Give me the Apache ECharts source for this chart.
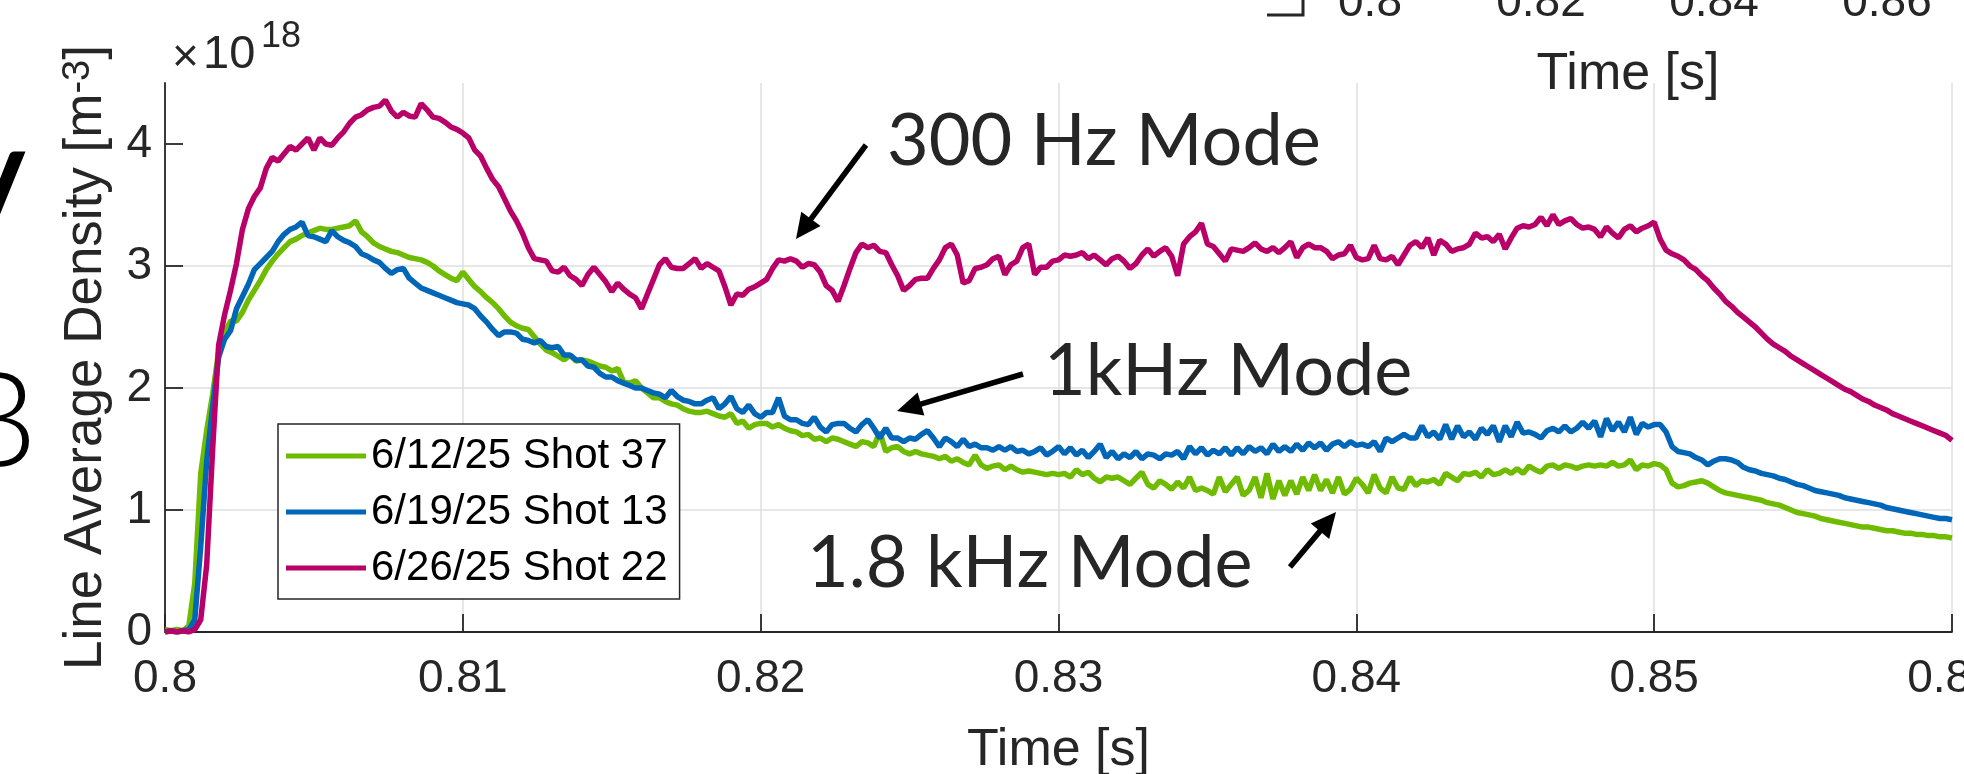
<!DOCTYPE html>
<html>
<head>
<meta charset="utf-8">
<title>Line average density</title>
<script src="https://cdn.jsdelivr.net/npm/echarts@6/dist/echarts.min.js"></script>
<style>
  html, body { margin: 0; padding: 0; background: #fff; }
  #chart { width: 1964px; height: 774px; }
</style>
</head>
<body>
<div id="chart"></div>
<script>
// samples every 0.2 ms from 0.800 s to 0.860 s, values in 1e18 m^-3
var t0 = 0.8;
var dt = 0.0002;

var shot37 = [ // 6/12/25 Shot 37
  0.02,0.01,0.02,0.01,0.05,0.4,1.3,1.65,1.95,2.3,
  2.45,2.55,2.55,2.62,2.72,2.8,2.88,2.97,3.04,3.1,
  3.15,3.2,3.22,3.25,3.27,3.29,3.31,3.3,3.3,3.31,
  3.32,3.33,3.37,3.28,3.24,3.19,3.16,3.14,3.12,3.11,
  3.09,3.07,3.06,3.05,3.03,3.0,2.96,2.93,2.9,2.88,
  2.95,
  2.89,2.83,2.79,2.74,2.7,2.65,2.59,2.54,2.51,2.49,
  2.48,2.42,2.36,2.31,2.29,2.26,2.23,2.27,2.22,2.23,
  2.22,2.2,2.18,2.17,2.14,2.16,2.05,2.04,2.06,2.0,
  1.96,1.92,1.92,1.89,1.87,1.86,1.83,1.81,1.8,1.8,
  1.81,1.79,1.77,1.76,1.79,1.71,1.73,1.67,1.7,1.71,
  1.71,1.68,1.7,1.67,1.65,1.64,1.61,1.62,1.58,1.59,
  1.56,1.59,1.58,1.56,1.54,1.52,1.56,1.55,1.52,1.64,
  1.48,1.51,1.52,1.48,1.46,1.48,1.46,1.45,1.44,1.42,
  1.44,1.4,1.42,1.39,1.37,1.45,1.37,1.34,1.36,1.37,
  1.33,1.36,1.33,1.31,1.32,1.31,1.3,1.29,1.3,1.29,
  1.3,1.27,1.33,1.29,1.31,1.26,1.23,1.27,1.26,1.27,
  1.24,1.21,1.26,1.31,1.21,1.18,1.24,1.21,1.17,1.23,
  1.18,1.27,1.16,1.18,1.16,1.13,1.27,1.15,1.21,1.27,
  1.12,1.16,1.27,1.1,1.3,1.09,1.24,1.12,1.24,1.13,
  1.27,1.16,1.29,1.16,1.25,1.14,1.27,1.13,1.17,1.26,
  1.21,1.14,1.29,1.18,1.14,1.27,1.18,1.17,1.27,1.2,
  1.24,1.23,1.25,1.21,1.3,1.27,1.24,1.3,1.29,1.31,
  1.27,1.33,1.29,1.3,1.33,1.3,1.34,1.3,1.36,1.33,
  1.31,1.36,1.37,1.34,1.37,1.36,1.34,1.36,1.37,1.36,
  1.37,1.36,1.39,1.36,1.37,1.41,1.33,1.37,1.36,1.38,
  1.37,1.33,1.22,1.19,1.2,1.22,1.23,1.24,1.22,1.19,
  1.16,1.14,1.13,1.12,1.11,1.1,1.09,1.08,1.06,1.05,
  1.04,1.02,1.0,0.98,0.97,0.96,0.95,0.93,0.92,0.91,
  0.9,0.89,0.88,0.87,0.86,0.86,0.85,0.84,0.83,0.83,
  0.82,0.81,0.81,0.8,0.8,0.79,0.79,0.78,0.78,0.77
];

var shot13 = [ // 6/19/25 Shot 13
  0.0,0.01,0.0,0.01,0.02,0.1,0.7,1.4,1.85,2.25,
  2.4,2.47,2.65,2.75,2.85,2.97,3.02,3.07,3.12,3.2,
  3.26,3.3,3.32,3.36,3.25,3.24,3.22,3.2,3.29,3.24,
  3.21,3.19,3.16,3.1,3.08,3.05,3.03,2.98,2.94,2.97,
  2.98,2.9,2.86,2.82,2.8,2.78,2.76,2.74,2.72,2.7,
  2.69,
  2.68,2.65,2.59,2.54,2.48,2.43,2.46,2.46,2.45,2.4,
  2.39,2.37,2.39,2.34,2.33,2.34,2.27,2.27,2.23,2.23,
  2.18,2.17,2.12,2.09,2.09,2.06,2.04,2.02,2.0,2.0,
  1.98,1.96,1.95,1.92,1.98,1.93,1.9,1.89,1.87,1.87,
  1.9,1.92,1.83,1.87,1.93,1.83,1.8,1.86,1.79,1.76,
  1.8,1.8,1.92,1.77,1.74,1.74,1.71,1.7,1.76,1.68,
  1.64,1.7,1.71,1.71,1.67,1.64,1.7,1.74,1.67,1.59,
  1.67,1.59,1.59,1.56,1.59,1.58,1.62,1.65,1.59,1.52,
  1.59,1.56,1.52,1.58,1.52,1.54,1.51,1.51,1.49,1.52,
  1.49,1.52,1.48,1.49,1.46,1.48,1.51,1.45,1.48,1.52,
  1.46,1.51,1.45,1.49,1.43,1.48,1.54,1.43,1.48,1.42,
  1.46,1.43,1.48,1.42,1.46,1.45,1.42,1.46,1.45,1.48,
  1.42,1.52,1.46,1.51,1.45,1.49,1.46,1.51,1.45,1.51,
  1.46,1.52,1.48,1.51,1.46,1.54,1.48,1.52,1.48,1.54,
  1.49,1.55,1.51,1.55,1.49,1.54,1.56,1.52,1.56,1.53,
  1.54,1.52,1.56,1.48,1.59,1.56,1.59,1.62,1.59,1.59,
  1.69,1.6,1.64,1.58,1.7,1.58,1.69,1.6,1.64,1.58,
  1.67,1.62,1.69,1.56,1.69,1.6,1.72,1.63,1.64,1.62,
  1.59,1.65,1.67,1.64,1.69,1.64,1.67,1.72,1.67,1.73,
  1.6,1.75,1.65,1.72,1.64,1.76,1.62,1.71,1.68,1.7,
  1.7,1.64,1.52,1.48,1.47,1.46,1.43,1.41,1.37,1.4,
  1.42,1.42,1.41,1.39,1.35,1.33,1.32,1.3,1.29,1.28,
  1.26,1.25,1.23,1.21,1.2,1.18,1.16,1.15,1.14,1.13,
  1.12,1.1,1.09,1.08,1.07,1.06,1.05,1.04,1.02,1.01,
  1.0,0.99,0.98,0.97,0.96,0.95,0.94,0.93,0.93,0.92
];

var shot22 = [ // 6/26/25 Shot 22
  0.0,0.01,0.0,0.01,0.0,0.02,0.1,0.55,1.5,2.35,
  2.6,2.8,3.02,3.3,3.47,3.57,3.64,3.8,3.89,3.86,
  3.92,3.98,3.95,4.0,4.05,3.95,4.05,4.0,3.99,4.05,
  4.1,4.17,4.22,4.24,4.28,4.3,4.31,4.36,4.27,4.22,
  4.26,4.23,4.22,4.33,4.28,4.22,4.21,4.18,4.14,4.12,
  4.09,
  4.05,3.95,3.9,3.8,3.71,3.65,3.55,3.45,3.37,3.27,
  3.15,3.06,3.05,3.04,2.96,2.95,2.99,2.92,2.89,2.84,
  2.93,2.99,2.93,2.87,2.79,2.86,2.81,2.77,2.74,2.65,
  2.77,2.89,3.01,3.06,2.99,2.98,2.98,3.02,3.06,2.98,
  3.02,2.99,2.96,2.83,2.68,2.77,2.76,2.81,2.83,2.86,
  2.89,2.98,3.05,3.04,3.06,3.04,2.99,3.02,3.01,2.95,
  2.84,2.8,2.71,2.84,2.98,3.11,3.18,3.15,3.17,3.12,
  3.11,3.01,2.92,2.8,2.84,2.89,2.9,2.9,2.98,3.05,
  3.15,3.18,3.09,2.86,2.88,2.98,2.99,3.01,3.06,3.08,
  2.93,3.01,3.04,3.15,3.18,2.93,2.99,2.99,3.04,3.05,
  3.09,3.08,3.09,3.11,3.06,3.09,3.05,3.01,3.06,3.08,
  3.04,2.98,3.02,3.09,3.14,3.08,3.12,3.15,3.08,2.92,
  3.18,3.24,3.28,3.35,3.18,3.16,3.1,3.04,3.14,3.13,
  3.12,3.15,3.19,3.14,3.12,3.15,3.11,3.15,3.2,3.07,
  3.15,3.18,3.15,3.15,3.12,3.06,3.09,3.1,3.17,3.07,
  3.05,3.06,3.17,3.06,3.05,3.08,3.01,3.09,3.17,3.2,
  3.15,3.23,3.09,3.21,3.18,3.12,3.14,3.15,3.18,3.27,
  3.23,3.24,3.2,3.26,3.14,3.23,3.31,3.33,3.32,3.34,
  3.4,3.33,3.42,3.34,3.37,3.39,3.34,3.31,3.32,3.3,
  3.24,3.32,3.27,3.23,3.3,3.33,3.28,3.31,3.33,3.36,
  3.22,3.13,3.1,3.08,3.05,3.0,2.97,2.92,2.88,2.82,
  2.77,2.71,2.67,2.62,2.58,2.54,2.5,2.45,2.4,2.36,
  2.33,2.3,2.26,2.23,2.2,2.17,2.14,2.11,2.08,2.05,
  2.02,1.99,1.97,1.94,1.91,1.89,1.86,1.84,1.82,1.79,
  1.77,1.75,1.73,1.71,1.69,1.67,1.65,1.63,1.61,1.57
];

var seriesNames = ['6/12/25 Shot 37', '6/19/25 Shot 13', '6/26/25 Shot 22'];
var seriesColors = ['#6ebb00', '#0066b8', '#b90069'];
var yTicks = [0, 1, 2, 3, 4];
var topTickLabels = ['0.8', '0.82', '0.84', '0.86'];

var darkText = '#262626';
var tickFont = 'Liberation Sans, Arial, sans-serif';
var noteFont = 'Lato, Noto Sans, sans-serif';

function toPairs(vals) {
  return vals.map(function (v, i) {
    return [+(t0 + i * dt).toFixed(4), v];
  });
}

// annotation arrow: shaft + filled head
function arrow(tail, tip) {
  var dx = tip[0] - tail[0], dy = tip[1] - tail[1];
  var len = Math.sqrt(dx * dx + dy * dy);
  var ux = dx / len, uy = dy / len;
  var hl = 25, hw = 12;
  var bx = tip[0] - ux * hl, by = tip[1] - uy * hl;
  return [
    {
      type: 'line', z: 100,
      shape: { x1: tail[0], y1: tail[1], x2: bx + ux * 3, y2: by + uy * 3 },
      style: { stroke: '#000', lineWidth: 5.5 }
    },
    {
      type: 'polygon', z: 100,
      shape: { points: [tip, [bx - uy * hw, by + ux * hw], [bx + uy * hw, by - ux * hw]] },
      style: { fill: '#000' }
    }
  ];
}

function note(text, x, y) {
  return {
    type: 'text', z: 100, x: x, y: y,
    style: {
      text: text, fill: darkText, fontFamily: noteFont, fontWeight: 400,
      fontSize: 72, align: 'left', verticalAlign: 'middle'
    }
  };
}

var graphics = [];
graphics.push(note('300 Hz Mode', 887, 142));
graphics.push(note('1kHz Mode', 1044, 372));
graphics.push(note('1.8 kHz Mode', 807, 564));
graphics = graphics.concat(arrow([866, 145], [796, 239]));
graphics = graphics.concat(arrow([1023, 374], [897, 411]));
graphics = graphics.concat(arrow([1290, 567], [1336, 512]));

// exponent above the y axis
graphics.push({
  type: 'text', x: 172, y: 58,
  style: { text: '\u00d7', fill: darkText, fontFamily: tickFont, fontSize: 46, verticalAlign: 'middle' }
});
graphics.push({
  type: 'text', x: 203, y: 55,
  style: { text: '10', fill: darkText, fontFamily: tickFont, fontSize: 47, verticalAlign: 'middle' }
});
graphics.push({
  type: 'text', x: 261, y: 37,
  style: { text: '18', fill: darkText, fontFamily: tickFont, fontSize: 36, verticalAlign: 'middle' }
});

// pieces of the neighbouring panels cut by the frame
var topTickX = [1370, 1541, 1714, 1887];
topTickLabels.forEach(function (lab, i) {
  graphics.push({
    type: 'text', x: topTickX[i], y: 3,
    style: { text: lab, fill: darkText, fontFamily: tickFont, fontSize: 46, align: 'center', verticalAlign: 'middle' }
  });
});
graphics.push({
  type: 'text', x: 1628, y: 75,
  style: { text: 'Time [s]', fill: darkText, fontFamily: tickFont, fontSize: 52, align: 'center', verticalAlign: 'middle' }
});
graphics.push({
  type: 'polyline',
  shape: { points: [[1267, 15], [1303, 15], [1303, -2]] },
  style: { stroke: darkText, lineWidth: 3, fill: null }
});
graphics.push({
  type: 'text', x: 26, y: 209,
  style: { text: 'V', fill: '#000', fontFamily: noteFont, fontWeight: 400, fontSize: 145, align: 'right', verticalAlign: 'middle' }
});
graphics.push({
  type: 'text', x: 37, y: 424,
  style: { text: 'B', fill: '#000', fontFamily: noteFont, fontWeight: 300, fontSize: 134, align: 'right', verticalAlign: 'middle' }
});

var chart = echarts.init(document.getElementById('chart'));

var option = {
  backgroundColor: '#fff',
  animation: false,
  grid: { left: 165, right: 12, top: 83, bottom: 142, containLabel: false, outerBoundsMode: 'none' },
  legend: {
    orient: 'vertical',
    left: 278,
    top: 424,
    icon: 'rect',
    itemWidth: 80,
    itemHeight: 5,
    itemGap: 8,
    padding: [8, 12, 7, 8],
    backgroundColor: '#fff',
    borderColor: darkText,
    borderWidth: 1.5,
    borderRadius: 0,
    textStyle: { fontFamily: tickFont, fontSize: 42, color: '#000', lineHeight: 48 },
    data: seriesNames
  },
  xAxis: {
    type: 'value',
    min: 0.8,
    max: 0.86,
    interval: 0.01,
    name: 'Time [s]',
    nameLocation: 'middle',
    nameGap: 93,
    nameMoveOverlap: false,
    nameTextStyle: { fontFamily: tickFont, fontSize: 52, color: darkText },
    axisLine: { show: true, lineStyle: { color: darkText, width: 1.8 } },
    axisTick: { show: true, inside: true, length: 18, lineStyle: { color: darkText, width: 1.8 } },
    axisLabel: {
      color: darkText, fontFamily: tickFont, fontSize: 46, margin: 24,
      formatter: function (v) { return String(+v.toFixed(2)); }
    },
    splitLine: { show: true, lineStyle: { color: '#dfdfdf', width: 1.5 } }
  },
  yAxis: {
    type: 'value',
    min: 0,
    max: 4.5,
    interval: 1,
    name: '{n|Line Average Density [m}{s|-3}{n|]}',
    nameLocation: 'middle',
    nameRotate: 90,
    nameGap: 52,
    nameMoveOverlap: false,
    nameTextStyle: {
      color: darkText,
      rich: {
        n: { fontFamily: tickFont, fontSize: 53, lineHeight: 53, color: darkText, verticalAlign: 'bottom' },
        s: { fontFamily: tickFont, fontSize: 38, lineHeight: 38, color: darkText, verticalAlign: 'top', padding: [0, 0, 30, 0] }
      }
    },
    axisLine: { show: true, lineStyle: { color: darkText, width: 1.8 } },
    axisTick: { show: true, inside: true, length: 18, customValues: yTicks, lineStyle: { color: darkText, width: 1.8 } },
    axisLabel: { color: darkText, fontFamily: tickFont, fontSize: 46, margin: 13, customValues: yTicks },
    splitLine: { show: true, showMaxLine: false, lineStyle: { color: '#dfdfdf', width: 1.5 } }
  },
  series: [shot37, shot13, shot22].map(function (vals, i) {
    return {
      name: seriesNames[i],
      type: 'line',
      data: toPairs(vals),
      symbol: 'none',
      showSymbol: false,
      lineStyle: { width: 5.5, color: seriesColors[i] },
      itemStyle: { color: seriesColors[i] }
    };
  }),
  graphic: graphics
};

chart.setOption(option);
</script>
</body>
</html>
